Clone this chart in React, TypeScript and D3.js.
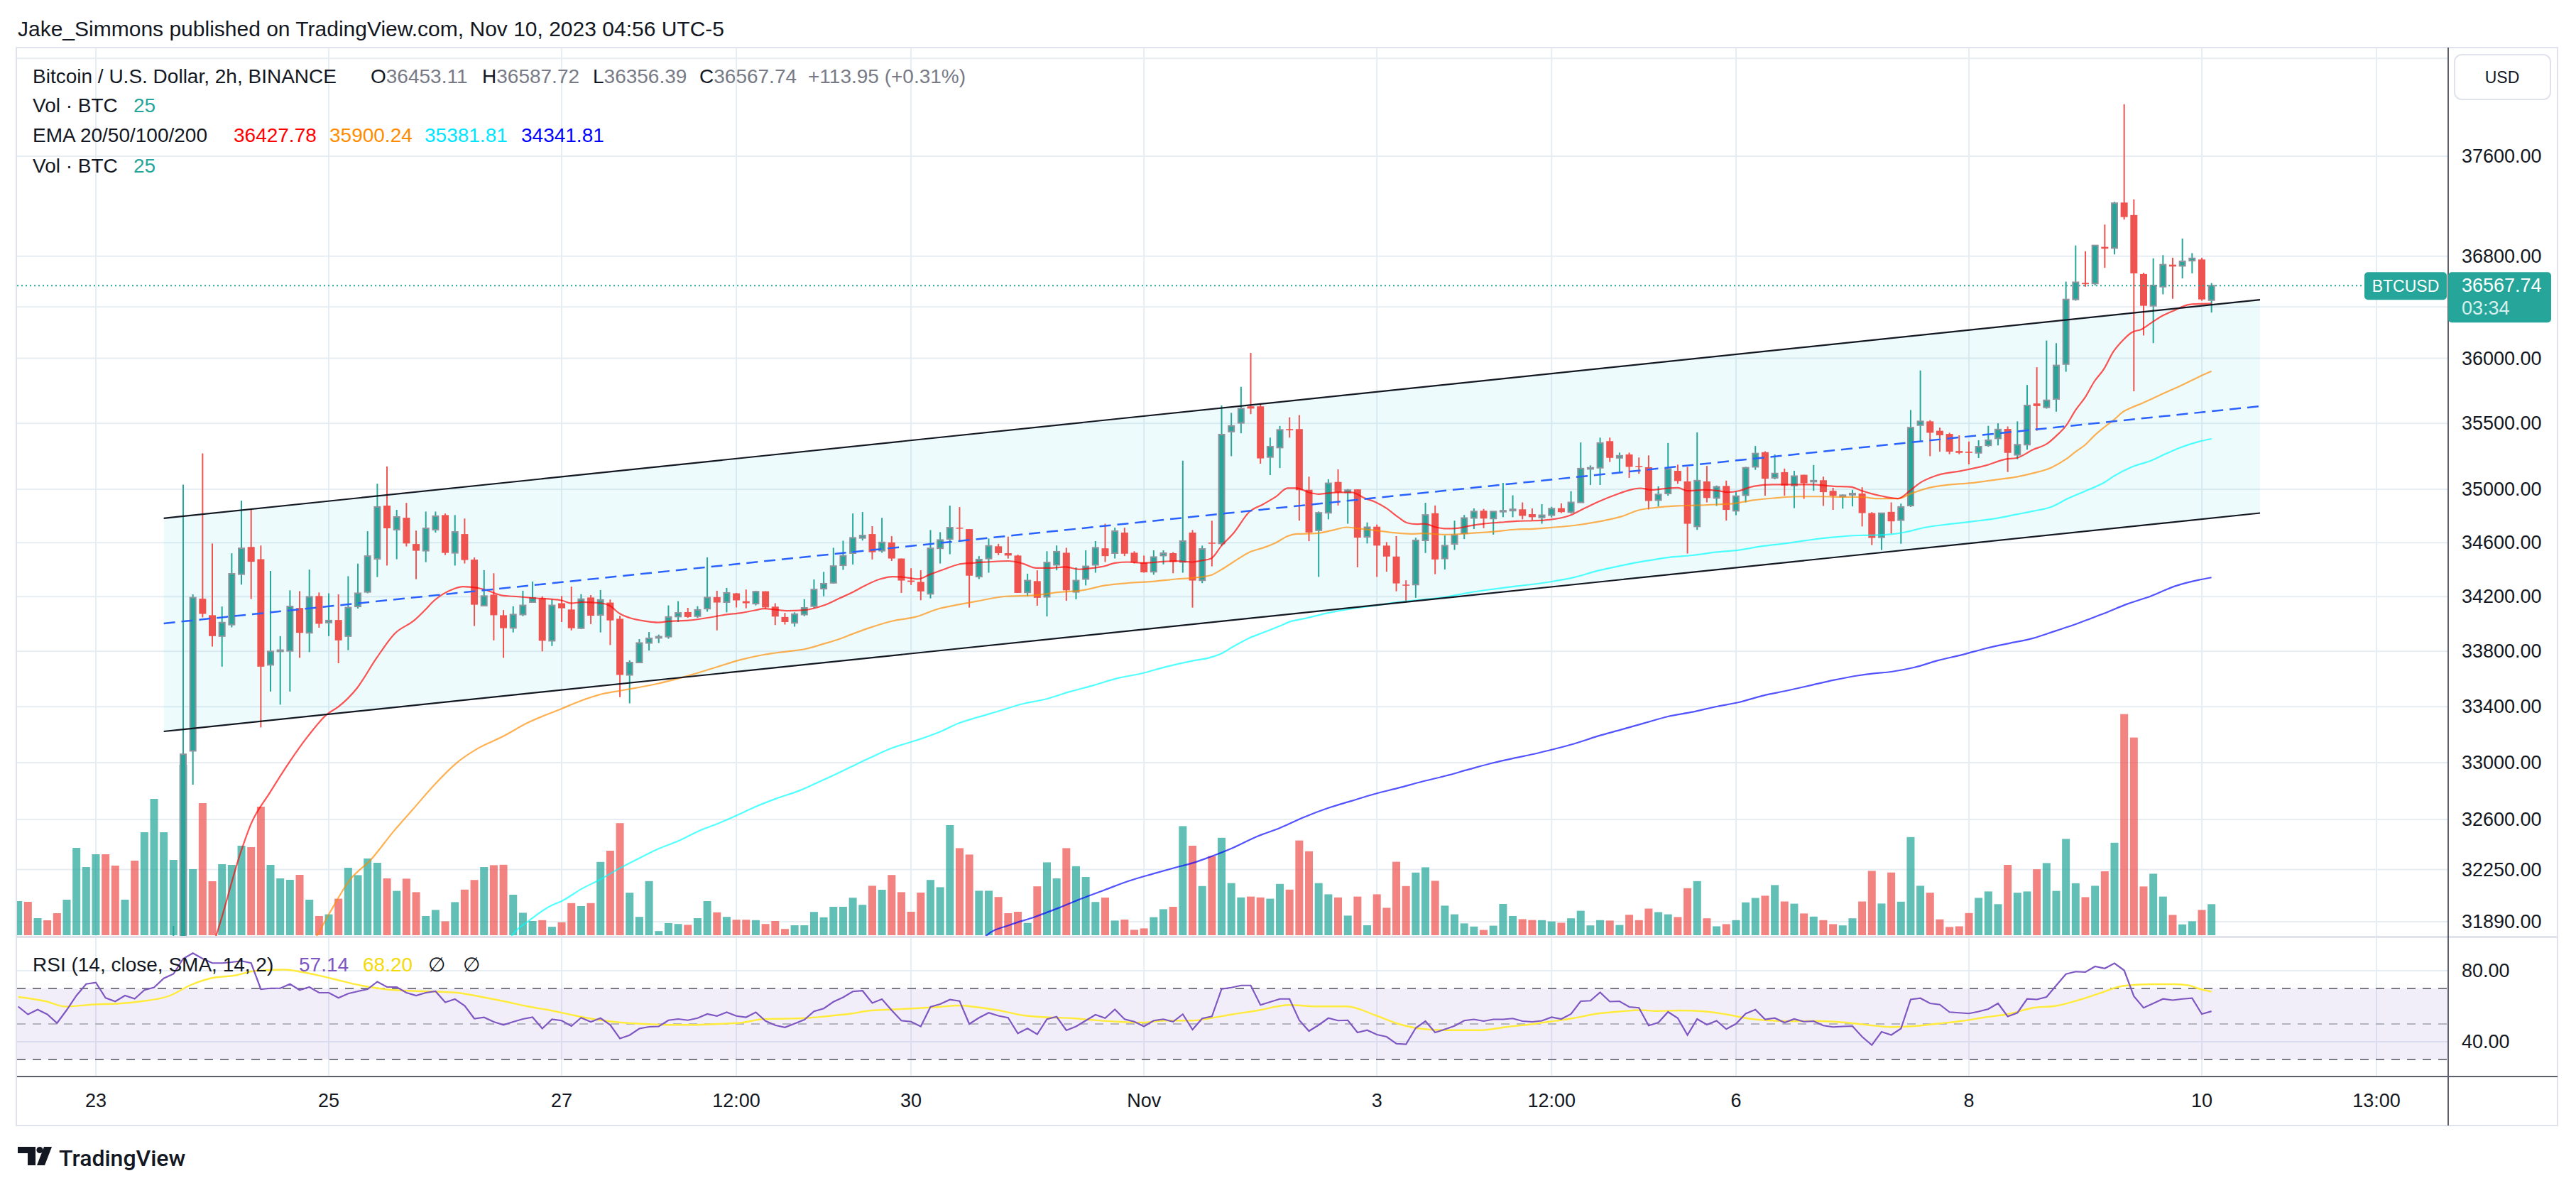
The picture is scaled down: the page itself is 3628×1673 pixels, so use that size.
import * as d3 from 'd3'

const FONT = "'Liberation Sans', Arial, sans-serif"
const UP = '#26a69a'
const DOWN = '#ef5350'
const UP_BORDER = '#8f939c'
const GRID = '#e6edf3'
const TEXT = '#131722'
const MUTED = '#787b86'

// 2h bars, BINANCE BTCUSD, [open, high, low, close]
const candles: number[][] = [
  [29950, 30040, 29900, 30010], [30010, 30060, 29890, 29920], [29920, 30000, 29880, 29970], [29970, 30010, 29900, 29930], [29930, 29980, 29840, 29880],
  [29880, 29990, 29860, 29960], [29960, 30400, 29940, 30350], [30350, 30600, 30300, 30520], [30520, 30760, 30480, 30700], [30700, 30780, 30520, 30580],
  [30580, 30640, 30400, 30450], [30450, 30560, 30420, 30520], [30520, 30560, 30320, 30380], [30380, 30850, 30360, 30800], [30800, 31350, 30780, 31300],
  [31300, 31600, 31250, 31550], [31550, 31860, 31500, 31720], [31720, 35035, 31650, 33060], [33084, 34217, 32845, 34193], [34185, 35271, 34048, 34074],
  [34064, 34594, 33835, 33911], [33911, 34128, 33689, 34010], [33995, 34521, 33975, 34369], [34366, 34914, 34289, 34558], [34568, 34845, 34183, 34458],
  [34477, 34579, 33251, 33689], [33702, 34390, 33509, 33800], [33800, 33911, 33415, 33809], [33803, 34247, 33509, 34128], [34117, 34241, 33753, 33935],
  [33935, 34400, 33795, 34199], [34205, 34231, 33973, 34001], [34010, 34225, 33911, 34025], [34029, 34217, 33714, 33880], [33911, 34351, 33809, 34120],
  [34128, 34444, 34113, 34225], [34235, 34685, 34225, 34500], [34480, 35041, 34345, 34867], [34877, 35172, 34430, 34707], [34697, 34845, 34477, 34792],
  [34786, 34898, 34572, 34594], [34590, 34690, 34329, 34540], [34540, 34832, 34455, 34707], [34697, 34832, 34675, 34798], [34806, 34818, 34508, 34524],
  [34524, 34806, 34430, 34680], [34664, 34780, 34445, 34471], [34474, 34490, 33985, 34141], [34134, 34396, 34134, 34205], [34215, 34373, 33880, 34064],
  [34064, 34102, 33753, 33969], [33971, 34130, 33938, 34069], [34069, 34244, 34057, 34136], [34160, 34312, 34160, 34191], [34188, 34203, 33800, 33877],
  [33877, 34179, 33839, 34136], [34152, 34206, 34014, 34115], [34106, 34274, 33953, 33969], [33969, 34219, 33962, 34182], [34194, 34212, 33999, 34060],
  [34066, 34249, 33938, 34176], [34157, 34179, 33846, 34026], [34038, 34060, 33469, 33629], [33629, 33735, 33424, 33719], [33719, 33889, 33717, 33861],
  [33861, 33941, 33806, 33895], [33898, 33922, 33861, 33907], [33907, 34136, 33892, 34051], [34054, 34167, 34014, 34081], [34087, 34118, 34045, 34051],
  [34057, 34130, 34045, 34103], [34112, 34491, 34090, 34194], [34197, 34244, 33953, 34157], [34160, 34265, 34085, 34228], [34225, 34228, 34121, 34173],
  [34167, 34253, 34115, 34152], [34149, 34244, 34136, 34237], [34240, 34240, 34112, 34121], [34127, 34152, 33992, 34054], [34051, 34081, 33996, 34014],
  [34008, 34085, 33980, 34072], [34069, 34182, 34057, 34118], [34130, 34327, 34118, 34253], [34259, 34383, 34203, 34296], [34302, 34562, 34296, 34426],
  [34432, 34614, 34398, 34503], [34522, 34818, 34438, 34636], [34635, 34829, 34616, 34653], [34664, 34723, 34475, 34529], [34540, 34785, 34525, 34602],
  [34602, 34649, 34464, 34482], [34482, 34482, 34228, 34319], [34319, 34410, 34286, 34309], [34309, 34395, 34174, 34239], [34221, 34694, 34188, 34558],
  [34558, 34678, 34445, 34620], [34627, 34877, 34514, 34712], [34712, 34866, 34609, 34705], [34701, 34701, 34120, 34355], [34348, 34500, 34330, 34475],
  [34482, 34631, 34377, 34576], [34573, 34591, 34507, 34522], [34522, 34645, 34482, 34504], [34504, 34511, 34228, 34228], [34232, 34370, 34203, 34319],
  [34315, 34395, 34134, 34192], [34199, 34536, 34055, 34453], [34435, 34579, 34395, 34533], [34525, 34562, 34170, 34247], [34235, 34416, 34181, 34319],
  [34330, 34543, 34283, 34424], [34435, 34612, 34377, 34562], [34558, 34741, 34456, 34500], [34522, 34712, 34482, 34686], [34675, 34712, 34500, 34518],
  [34525, 34536, 34445, 34453], [34453, 34504, 34377, 34380], [34384, 34543, 34362, 34493], [34504, 34543, 34439, 34522], [34522, 34529, 34373, 34456],
  [34456, 35216, 34377, 34612], [34675, 34694, 34120, 34319], [34321, 34578, 34300, 34553], [34600, 34764, 34424, 34594], [34594, 35637, 34578, 35414],
  [35437, 35580, 35250, 35480], [35503, 35780, 35424, 35613], [35630, 36042, 35570, 35613], [35630, 35647, 35193, 35233], [35243, 35391, 35107, 35322],
  [35315, 35480, 35160, 35450], [35456, 35546, 35391, 35447], [35456, 35563, 34764, 34993], [34996, 35095, 34611, 34676], [34692, 34833, 34346, 34823],
  [34823, 35075, 34774, 35045], [35055, 35150, 34878, 34976], [34976, 35002, 34741, 34993], [34999, 34999, 34417, 34637], [34643, 34751, 34594, 34715],
  [34719, 34735, 34346, 34578], [34578, 34604, 34385, 34497], [34497, 34649, 34240, 34298], [34289, 34321, 34166, 34282], [34289, 34637, 34192, 34617],
  [34617, 34898, 34523, 34807], [34820, 34878, 34366, 34475], [34482, 34653, 34401, 34578], [34591, 34764, 34546, 34656], [34669, 34807, 34627, 34784],
  [34784, 34856, 34702, 34833], [34839, 34852, 34708, 34780], [34780, 34833, 34660, 34833], [34833, 35048, 34790, 34839], [34839, 34954, 34790, 34849],
  [34849, 34901, 34774, 34800], [34813, 34856, 34767, 34790], [34788, 34888, 34741, 34805], [34805, 34868, 34788, 34854], [34858, 34894, 34821, 34828],
  [34828, 34985, 34818, 34901], [34901, 35354, 34901, 35156], [35153, 35180, 35032, 35162], [35162, 35391, 35032, 35350], [35364, 35391, 35206, 35237],
  [35237, 35277, 35122, 35253], [35263, 35277, 35086, 35169], [35176, 35240, 35116, 35169], [35166, 35256, 34848, 34912], [34918, 35022, 34871, 34961],
  [34968, 35350, 34951, 35153], [35139, 35186, 35041, 35062], [35059, 35169, 34519, 34741], [34721, 35431, 34695, 35065], [35059, 35176, 34901, 34934],
  [34934, 35028, 34875, 35018], [35025, 35065, 34765, 34845], [34838, 34981, 34805, 34948], [34955, 35169, 34901, 35162], [35169, 35327, 35146, 35270],
  [35280, 35287, 34951, 35079], [35086, 35263, 35075, 35119], [35129, 35156, 34951, 35028], [35028, 35139, 34858, 35099], [35109, 35109, 34928, 35045],
  [35059, 35183, 34988, 35065], [35068, 35095, 34875, 34978], [34988, 35011, 34845, 34951], [34945, 34961, 34854, 34955], [34958, 34995, 34871, 34968],
  [34968, 35015, 34721, 34821], [34821, 34828, 34582, 34635], [34640, 34820, 34545, 34820], [34830, 34901, 34668, 34759], [34768, 34892, 34592, 34867],
  [34877, 35602, 34867, 35467], [35486, 35906, 35361, 35515], [35515, 35524, 35250, 35428], [35443, 35467, 35284, 35409], [35419, 35428, 35265, 35284],
  [35289, 35409, 35265, 35275], [35284, 35361, 35188, 35275], [35275, 35371, 35236, 35322], [35332, 35481, 35322, 35371], [35385, 35500, 35332, 35453],
  [35457, 35476, 35130, 35275], [35260, 35515, 35227, 35337], [35337, 35794, 35299, 35637], [35652, 35931, 35443, 35632], [35622, 36138, 35612, 35676],
  [35686, 36118, 35589, 35945], [35955, 36599, 35896, 36459], [36459, 36885, 36449, 36594], [36589, 36839, 36559, 36579], [36584, 36885, 36569, 36885],
  [36874, 37051, 36708, 36859], [36864, 37233, 36814, 37222], [37227, 38023, 37091, 37111], [37127, 37253, 35745, 36664], [36659, 36669, 36177, 36409],
  [36409, 36783, 36118, 36569], [36559, 36808, 36499, 36733], [36733, 36788, 36464, 36718], [36723, 36940, 36624, 36759], [36764, 36824, 36664, 36783],
  [36774, 36788, 36449, 36459], [36453.11, 36587.72, 36356.39, 36567.74],
]

const volumes: number[] = [
  2400, 2350, 1200, 1050, 1550, 2500, 6150, 4800, 5700, 5700,
  4900, 2500, 5250, 7250, 9600, 7250, 5300, 12000, 4650, 9300,
  3800, 5000, 4950, 6300, 6200, 9050, 4950, 4000, 3900, 4250,
  2500, 1350, 1470, 2570, 4750, 4230, 5400, 5100, 4000, 3120,
  3980, 3030, 1350, 1780, 980, 2330, 3210, 3890, 4800, 4930,
  4960, 2850, 1580, 1000, 1060, 590, 910, 2260, 2050, 2260,
  5160, 5950, 7890, 2990, 1290, 3810, 290, 850, 790, 730,
  1200, 2400, 1610, 1290, 1090, 1090, 1060, 790, 1000, 440,
  700, 700, 1640, 1260, 2000, 2000, 2640, 2140, 3480, 3200,
  4240, 3030, 1650, 3000, 3890, 3380, 7750, 6130, 5680, 3130,
  3130, 2690, 1550, 1650, 860, 3440, 5130, 4000, 6130, 4860,
  4100, 2340, 2650, 1030, 1100, 380, 480, 1270, 1830, 2000,
  7680, 6300, 3460, 5570, 6860, 3670, 2660, 2720, 2660, 2570,
  3610, 3210, 6670, 5910, 3670, 2880, 2660, 1380, 2720, 700,
  2880, 1930, 5170, 3460, 4410, 4780, 3830, 2080, 1470, 830,
  610, 370, 670, 2200, 1350, 1130, 1070, 1060, 970, 875,
  1190, 1720, 690, 1060, 1030, 720, 1440, 1060, 1875, 1625,
  1470, 1280, 3310, 3810, 1190, 625, 780, 1060, 2310, 2625,
  2780, 3530, 2375, 2220, 1530, 1310, 1060, 780, 690, 1190,
  2375, 4530, 2230, 4415, 2360, 6910, 3480, 2990, 1115, 580,
  625, 1560, 2630, 3080, 2185, 4950, 2990, 3080, 4640, 5080,
  3120, 6780, 3660, 2680, 3480, 4500, 6510, 15570, 13920, 3430,
  4330, 2720, 1430, 760, 980, 1780, 2185,
]

const rsiValues: number[] = [
  59.8, 55.4, 58.1, 55.4, 50.5, 57.9, 66, 72.5, 73.3, 64.7,
  62.7, 66, 64.2, 69.1, 70.6, 75.7, 78.2, 86.8, 89.9, 86.8,
  84.3, 84.3, 84.8, 85.5, 84.3, 69.6, 70.1, 70.1, 72.5, 69.1,
  70.8, 67.6, 67.6, 64.7, 67.1, 68.4, 69.6, 73.8, 70.8, 70.8,
  67.6, 66, 67.6, 68.4, 62.2, 64, 60.3, 53, 53.7, 51.2,
  49.5, 51.2, 52.8, 53.8, 47.4, 52.6, 51.9, 48.8, 53.5, 51.2,
  53.3, 49.5, 41.8, 43.7, 47.4, 48.4, 48.6, 52.1, 52.8, 52.1,
  53.3, 55.6, 54.5, 56.6, 54.5, 53.8, 56.6, 51.7, 49.3, 48.1,
  50.2, 52.4, 57.1, 58.7, 62.5, 65, 68.3, 68.7, 61.8, 64,
  57.7, 51.9, 51.3, 48.6, 59.6, 61.2, 63.7, 62.9, 50, 53.5,
  56.3, 54.6, 53.5, 44.7, 47.5, 44.2, 52.7, 54.1, 46.4, 48.6,
  51.9, 55.2, 53.3, 58.2, 52.7, 51.3, 48.6, 51.9, 52.7, 51.3,
  55.5, 46.8, 53.1, 54.3, 69.7, 70.5, 71.7, 71.7, 60.7, 62.4,
  64.1, 64.1, 52.1, 46, 49.4, 53.3, 51.9, 52.1, 45.2, 46.5,
  44, 42.8, 38.9, 38.6, 47.7, 51.6, 45.2, 47, 48.9, 51.9,
  52.6, 51.6, 52.6, 52.6, 53.1, 51.6, 51.2, 51.8, 53.8, 52.8,
  55.6, 62.8, 63.1, 67.8, 62.6, 62.8, 59.6, 59.1, 49.1, 50.8,
  56.8, 53.3, 43.8, 52.8, 49.6, 51.8, 47.1, 50.1, 55.8, 58.1,
  52.6, 53.3, 50.8, 52.8, 51.3, 51.6, 49.1, 48.3, 48.6, 48.8,
  42.8, 38.1, 45.6, 43.8, 47.4, 63.8, 64.5, 61.6, 60.9, 56.7,
  56.3, 55.9, 57, 58.4, 61.6, 54.2, 56.3, 64.1, 63.8, 65.2,
  71.7, 78.1, 79.5, 79.2, 82.4, 81.3, 84.2, 80.2, 65.6, 59.1,
  61.6, 64.1, 63.4, 64.1, 64.5, 55.6, 57.14,
]

// [bar, value]
const rsiSma: number[][] = [
  [0, 65.2], [2.9, 62.7], [4.8, 59.8], [7.8, 61], [10.4, 61.5], [12.6, 62.7], [15.6, 65.9], [17.8, 72], [19.8, 75.7],
  [22.4, 77.4], [24.4, 79.9], [27.3, 80.6], [29.6, 78.9], [32.2, 75.7], [35.4, 71.6], [38.7, 69.1], [41.9, 68.4],
  [45.2, 67.6], [47.8, 65.2], [50.3, 62.5], [52.5, 59.9], [55, 57.5], [57.4, 54.7], [59.8, 52.3], [62.3, 50.7],
  [64.7, 50], [67.1, 49.5], [69.6, 49.5], [72, 50], [74.5, 50.7], [76.9, 52.8], [79.3, 53], [81, 53.3], [83, 54.2],
  [85.9, 55.9], [87.6, 57.4], [90.1, 58.2], [92.5, 58.8], [94.9, 59.6], [96.9, 60.4], [98.6, 59.6], [101, 57.7],
  [103.5, 54.9], [105.9, 53.8], [108.4, 53.3], [110.8, 52.2], [113.2, 51.3], [115.9, 50.8], [118.1, 51.9], [121, 51.9],
  [122.7, 53.1], [125.2, 55.5], [127.6, 57.5], [131, 60.7], [133.7, 59.9], [136.9, 59.9], [139.8, 55], [142.2, 50.1],
  [144.7, 47.2], [147.1, 46.5], [150.8, 46.5], [153.2, 48.2], [155.8, 49.8], [157.8, 51.3], [160.3, 53.3], [162.7, 55.8],
  [165.2, 57.1], [167.1, 57.8], [168.8, 57.3], [171.2, 57.6], [173.7, 57.1], [176.1, 55.3], [178.6, 52.8], [181, 51.8],
  [183.4, 51.6], [185.9, 51.6], [188.3, 50.8], [190.5, 49.5], [193, 48.3], [195.4, 48.8], [197.8, 50.2], [200.3, 51.7],
  [202.7, 53.8], [205.1, 55.6], [207.6, 59.1], [210, 60.2], [212.5, 63.8], [214.9, 68.1], [216.4, 70.9], [217.3, 71.7],
  [219.8, 72.4], [222.2, 72.4], [223.7, 71.7], [224.7, 69.9], [226, 68.2],
]

const ema20: number[][] = [
  [19, 31550], [20.4, 31797], [23, 32385], [24, 32570], [25.9, 32785], [27.9, 33000], [29.9, 33193], [31.8, 33344],
  [33, 33400], [34.9, 33533], [36.9, 33749], [38.8, 33930], [40.8, 34026], [41.9, 34101], [42.9, 34174], [44.9, 34258],
  [45.8, 34274], [47.8, 34258], [50, 34207], [51, 34203], [53, 34191], [56, 34173], [57, 34152], [58.1, 34160],
  [60.1, 34152], [60.9, 34136], [62, 34075], [63, 34045], [64.7, 34020], [65.9, 34011], [67.1, 34020], [69.1, 34026],
  [71, 34045], [73, 34069], [74.5, 34081], [75.9, 34100], [76.9, 34112], [77.9, 34106], [79.3, 34097], [80.8, 34100],
  [83, 34136], [84.7, 34191], [85.9, 34230], [86.6, 34257], [88.8, 34330], [90.1, 34348], [91.3, 34344], [92.7, 34330],
  [94, 34366], [95.4, 34402], [96.9, 34439], [98.3, 34449], [99.8, 34456], [102, 34464], [103.5, 34445], [104.9, 34412],
  [106.4, 34412], [107.9, 34420], [109.3, 34402], [110.8, 34412], [112, 34427], [113, 34449], [114.4, 34456], [115.9, 34449],
  [117.4, 34456], [119.3, 34464], [121, 34456], [121.8, 34465], [122.9, 34482], [124, 34578], [125.2, 34669], [126.9, 34833],
  [128.3, 34888], [129.6, 34944], [130.8, 35009], [131.7, 35009], [133, 34976], [134, 34963], [134.9, 34970], [136.1, 34976],
  [137.4, 34976], [138.8, 34931], [139.8, 34905], [141, 34856], [142.2, 34790], [143.1, 34748], [144.1, 34738], [144.9, 34741],
  [146.1, 34715], [147.1, 34705], [148.3, 34708], [149.5, 34725], [151, 34741], [152.7, 34751], [154.4, 34761], [156.1, 34764],
  [157.8, 34771], [159.8, 34801], [161.5, 34861], [163, 34912], [164.7, 34961], [166.1, 34995], [167.1, 35008], [168.3, 34995],
  [170, 35008], [171, 35011], [172, 34988], [173.7, 34995], [175.2, 34988], [176.1, 34978], [177.3, 34988], [178.8, 35022],
  [180.8, 35035], [182.2, 35035], [184.7, 35035], [187.1, 35022], [188.8, 35018], [190, 34988], [190.8, 34970], [192, 34949],
  [193.7, 34930], [194.9, 34987], [195.9, 35045], [197.8, 35107], [200.3, 35140], [202.7, 35179], [204.8, 35227], [205.9, 35236],
  [207.6, 35299], [209.1, 35347], [210, 35404], [211, 35481], [212, 35602], [213, 35701], [213.9, 35818], [214.9, 35916],
  [215.9, 36053], [216.9, 36143], [217.8, 36202], [218.8, 36226], [219.8, 36276], [220.8, 36325], [222.2, 36374], [223.7, 36419],
  [224.7, 36424], [226, 36427.78],
]

const ema50: number[][] = [
  [29, 31600], [30.8, 31797], [32.2, 31963], [34.1, 32172], [36.4, 32323], [38.7, 32518], [40.6, 32665], [42.9, 32845],
  [45.2, 33000], [47.5, 33107], [49.8, 33182], [52.5, 33285], [56, 33386], [58.1, 33446], [59.8, 33485], [62, 33515],
  [63.7, 33536], [65.9, 33566], [68.1, 33605], [69.6, 33635], [72, 33687], [74.5, 33740], [76.9, 33777], [79.3, 33800],
  [81, 33816], [83, 33855], [84.7, 33892], [85.9, 33925], [87.6, 33969], [90.1, 34022], [92.5, 34052], [94.9, 34113],
  [96.9, 34142], [98.8, 34167], [101.8, 34203], [104.7, 34210], [107.1, 34232], [109.6, 34247], [112, 34283], [114.4, 34301],
  [116.9, 34312], [119.3, 34330], [121, 34338], [122.9, 34359], [124, 34401], [125.2, 34456], [126.9, 34530], [128.3, 34562],
  [129.6, 34600], [130.8, 34649], [131.7, 34665], [133.7, 34669], [135.4, 34692], [136.9, 34715], [137.8, 34708], [139.8, 34692],
  [141.5, 34676], [143.5, 34665], [144.7, 34669], [147.1, 34660], [149.5, 34669], [152, 34682], [154.4, 34699], [156.1, 34702],
  [157.8, 34712], [160.3, 34728], [162.7, 34755], [165.2, 34795], [167.1, 34845], [168.6, 34861], [171, 34875], [172.5, 34878],
  [174.9, 34885], [176.9, 34894], [178.8, 34918], [181, 34934], [183.4, 34945], [185.9, 34945], [188.3, 34941], [190, 34941],
  [191.5, 34930], [193.8, 34930], [194.9, 34963], [196.9, 35011], [199.1, 35035], [201.5, 35049], [203.9, 35073], [205.9, 35093],
  [207.6, 35121], [209.5, 35164], [211, 35227], [212, 35284], [213, 35337], [213.9, 35404], [214.9, 35467], [215.9, 35524],
  [216.9, 35589], [217.8, 35622], [218.8, 35652], [219.8, 35686], [221.2, 35735], [222.7, 35784], [224.7, 35857], [226, 35900.24],
]

const ema100: number[][] = [
  [49.5, 31600], [50.9, 31797], [52.5, 31890], [55, 32004], [56, 32032], [58.1, 32118], [59.8, 32175], [62, 32260],
  [63.7, 32319], [65.9, 32392], [68.1, 32451], [70.3, 32524], [72, 32568], [74, 32627], [75.9, 32687], [78.1, 32746],
  [80.6, 32805], [83, 32879], [85.5, 32960], [87.6, 33029], [90.1, 33106], [92.5, 33158], [94.9, 33218], [96.9, 33281],
  [98.8, 33323], [101, 33368], [103.5, 33420], [105.9, 33455], [108.4, 33509], [110.8, 33554], [113.2, 33604], [115.7, 33639],
  [118.1, 33685], [121, 33731], [122.7, 33753], [124, 33785], [125.2, 33835], [126.9, 33899], [128.3, 33937], [130, 33985],
  [131, 34016], [132.5, 34039], [134.9, 34080], [137.4, 34112], [139.8, 34134], [142.2, 34160], [144.7, 34179], [147.1, 34198],
  [149.5, 34230], [152, 34256], [154.4, 34278], [156.1, 34292], [157.8, 34309], [160.3, 34342], [162.7, 34391], [165.2, 34430],
  [167.6, 34463], [170, 34490], [172.5, 34506], [174.9, 34529], [177.3, 34545], [179.8, 34575], [182.2, 34595], [184.7, 34621],
  [187.1, 34641], [189.5, 34654], [191.2, 34656], [193, 34663], [194.4, 34678], [196.6, 34715], [199.1, 34739], [201.5, 34759],
  [203.9, 34782], [205.9, 34811], [207.6, 34835], [209.5, 34868], [211.2, 34930], [213, 34987], [214.9, 35049], [215.9, 35097],
  [217.8, 35169], [219.8, 35217], [221.2, 35265], [222.7, 35313], [224.7, 35361], [226, 35381.81],
]

const ema200: number[][] = [
  [98.5, 31650], [99.8, 31797], [102.2, 31868], [104.7, 31922], [107.1, 31982], [109.6, 32050], [112, 32110], [114.4, 32170],
  [116.9, 32220], [119.3, 32265], [121, 32295], [122.7, 32335], [125.2, 32402], [127.6, 32479], [130, 32540], [132.5, 32616],
  [134.9, 32678], [137.4, 32730], [139.8, 32779], [142.2, 32821], [144.7, 32867], [147.1, 32907], [149.5, 32953], [152, 32999],
  [154.4, 33036], [156.1, 33061], [157.8, 33089], [160.3, 33134], [162.7, 33188], [165.2, 33236], [167.6, 33283], [170, 33330],
  [172.5, 33362], [174.9, 33400], [177.3, 33432], [179.8, 33480], [182.2, 33515], [184.7, 33554], [187.1, 33592], [189.5, 33624],
  [191.2, 33640], [193, 33652], [195.4, 33684], [197.8, 33734], [200.3, 33775], [202.7, 33821], [205.1, 33858], [207.6, 33895],
  [210, 33951], [212, 33998], [213.7, 34044], [214.9, 34076], [217.3, 34146], [219.8, 34206], [222.2, 34277], [224.7, 34324],
  [226, 34341.81],
]

// parallel channel drawing, [bar, price]
const channelUpper: number[][] = [[15, 34782], [231, 36457]]
const channelMiddle: number[][] = [[15, 34004], [231, 35631]]
const channelLower: number[][] = [[15, 33223], [231, 34821]]

const priceGrid = [38400, 37600, 36800, 36400, 36000, 35500, 35000, 34600, 34200, 33800, 33400, 33000, 32600, 32250, 31890]
const priceLabels = [37600, 36800, 36000, 35500, 35000, 34600, 34200, 33800, 33400, 33000, 32600, 32250, 31890]
const rsiGrid = [80, 40]
const rsiLabels = [80, 40]
const timeTicks: [number, string][] = [
  [8, '23'], [32, '25'], [56, '27'], [74, '12:00'], [92, '30'], [116, 'Nov'],
  [140, '3'], [158, '12:00'], [177, '6'], [201, '8'], [225, '10'], [243, '13:00'],
]
const lastPrice = 36567.74

export default function App() {
  const x = d3.scaleLinear().domain([8, 225]).range([135, 3101])
  const y = d3.scaleLog().domain([31890, 37600]).range([1298, 220])
  const yRsi = d3.scaleLinear().domain([30, 70]).range([1492, 1392])
  const yVol = d3.scaleLinear().domain([0, 20000]).range([1317, 917])

  const left = 24
  const axisX = 3448
  const frameRight = 3602
  const top = 68
  const paneBottom = 1318
  const rsiTop = 1321
  const rsiBottom = 1515
  const xAxisBottom = 1585

  const pxLine = d3.line<number[]>().x(d => x(d[0])).y(d => y(d[1]))
  const emaLine = d3.line<number[]>().x(d => x(d[0])).y(d => y(d[1])).curve(d3.curveMonotoneX)
  const rsiLine = d3.line<number>().x((_, i) => x(i)).y(d => yRsi(d))
  const smaLine = d3.line<number[]>().x(d => x(d[0])).y(d => yRsi(d[1])).curve(d3.curveMonotoneX)

  const channelArea =
    `M${x(channelUpper[0][0])},${y(channelUpper[0][1])}` +
    `L${x(channelUpper[1][0])},${y(channelUpper[1][1])}` +
    `L${x(channelLower[1][0])},${y(channelLower[1][1])}` +
    `L${x(channelLower[0][0])},${y(channelLower[0][1])}Z`

  const emas: [number[][], string][] = [
    [ema200, '#0000ff'], [ema100, '#00ffff'], [ema50, '#ff8c00'], [ema20, '#ff0000'],
  ]

  const yLast = y(lastPrice)

  return (
    <svg width={3628} height={1673} style={{ position: 'absolute', left: 0, top: 0, background: '#fff' }} fontFamily={FONT}>
      <defs>
        <clipPath id="main"><rect x={left} y={top} width={axisX - left} height={paneBottom - top} /></clipPath>
        <clipPath id="rsi"><rect x={left} y={rsiTop} width={axisX - left} height={rsiBottom - rsiTop} /></clipPath>
      </defs>
      <rect width={3628} height={1673} fill="#fff" />

      <text x={25} y={40} fontSize={30} fill={TEXT} dominantBaseline="central">
        Jake_Simmons published on TradingView.com, Nov 10, 2023 04:56 UTC-5
      </text>

      {/* grid */}
      {priceGrid.map(p => (
        <line key={p} x1={left} x2={axisX} y1={y(p)} y2={y(p)} stroke={GRID} strokeWidth={2} />
      ))}
      {rsiGrid.map(v => (
        <line key={v} x1={left} x2={axisX} y1={yRsi(v)} y2={yRsi(v)} stroke={GRID} strokeWidth={2} />
      ))}
      {timeTicks.map(([i]) => (
        <line key={i} x1={x(i)} x2={x(i)} y1={top} y2={rsiBottom} stroke={GRID} strokeWidth={2} />
      ))}

      {/* main pane */}
      <g clipPath="url(#main)">
        <path d={channelArea} fill="rgba(0,188,212,0.065)" />
        {volumes.map((v, i) => {
          const c = candles[i]
          const up = c[3] >= c[0]
          return (
            <rect key={i} x={x(i) - 5.5} y={yVol(v)} width={11} height={yVol(0) - yVol(v)}
              fill={up ? UP : DOWN} fillOpacity={0.72} />
          )
        })}
        {candles.map((c, i) => {
          const [o, h, l, cl] = c
          const up = cl >= o
          const cx = x(i)
          const yt = y(Math.max(o, cl))
          const bh = Math.max(y(Math.min(o, cl)) - yt, 1.5)
          return (
            <g key={i}>
              <line x1={cx} x2={cx} y1={y(h)} y2={y(l)} stroke={up ? UP : DOWN} strokeWidth={2} />
              {up ? (
                <rect x={cx - 4} y={yt} width={8} height={bh} fill={UP} stroke={UP_BORDER} strokeWidth={2} />
              ) : (
                <rect x={cx - 5} y={yt} width={10} height={bh} fill={DOWN} />
              )}
            </g>
          )
        })}
        {emas.map(([d, col]) => (
          <path key={col} d={emaLine(d) || ''} fill="none" stroke={col} strokeOpacity={0.68} strokeWidth={2.2} />
        ))}
        <path d={pxLine(channelUpper) || ''} stroke="#131722" strokeWidth={2.2} fill="none" />
        <path d={pxLine(channelLower) || ''} stroke="#131722" strokeWidth={2.2} fill="none" />
        <path d={pxLine(channelMiddle) || ''} stroke="#2962ff" strokeWidth={2.5} strokeDasharray="16 9" fill="none" />
        <line x1={left} x2={3330} y1={yLast} y2={yLast} stroke={UP} strokeWidth={2} strokeDasharray="2 4" />
      </g>

      {/* legend */}
      <g fontSize={28} dominantBaseline="central">
        <text x={46} y={107} fill={TEXT}>Bitcoin / U.S. Dollar, 2h, BINANCE</text>
        <text x={522} y={107} fill={TEXT}>O<tspan fill={MUTED}>36453.11</tspan></text>
        <text x={679} y={107} fill={TEXT}>H<tspan fill={MUTED}>36587.72</tspan></text>
        <text x={835} y={107} fill={TEXT}>L<tspan fill={MUTED}>36356.39</tspan></text>
        <text x={985} y={107} fill={TEXT}>C<tspan fill={MUTED}>36567.74</tspan></text>
        <text x={1138} y={107} fill={MUTED}>+113.95 (+0.31%)</text>

        <text x={46} y={148} fill={TEXT}>Vol · BTC</text>
        <text x={188} y={148} fill={UP}>25</text>

        <text x={46} y={190} fill={TEXT}>EMA 20/50/100/200</text>
        <text x={329} y={190} fill="#ff0000">36427.78</text>
        <text x={464} y={190} fill="#ff8c00">35900.24</text>
        <text x={598} y={190} fill="#00e5ff">35381.81</text>
        <text x={734} y={190} fill="#0000ff">34341.81</text>

        <text x={46} y={233} fill={TEXT}>Vol · BTC</text>
        <text x={188} y={233} fill={UP}>25</text>
      </g>

      {/* RSI pane */}
      <g clipPath="url(#rsi)">
        <rect x={left} y={yRsi(70)} width={axisX - left} height={yRsi(30) - yRsi(70)} fill="rgba(126,87,194,0.1)" />
        <line x1={left} x2={axisX} y1={yRsi(70)} y2={yRsi(70)} stroke={MUTED} strokeWidth={2} strokeDasharray="12 10" />
        <line x1={left} x2={axisX} y1={yRsi(50)} y2={yRsi(50)} stroke="#b2b5be" strokeWidth={2} strokeDasharray="12 10" />
        <line x1={left} x2={axisX} y1={yRsi(30)} y2={yRsi(30)} stroke={MUTED} strokeWidth={2} strokeDasharray="12 10" />
        <path d={smaLine(rsiSma) || ''} fill="none" stroke="#ffeb3b" strokeWidth={2.4} />
        <path d={rsiLine(rsiValues) || ''} fill="none" stroke="#7e57c2" strokeWidth={2.2} />
      </g>
      <g fontSize={28} dominantBaseline="central">
        <text x={46} y={1358} fill={TEXT}>RSI (14, close, SMA, 14, 2)</text>
        <text x={421} y={1358} fill="#7e57c2">57.14</text>
        <text x={511} y={1358} fill="#f5d90a">68.20</text>
        <text x={603} y={1358} fill={TEXT}>∅</text>
        <text x={652} y={1358} fill={TEXT}>∅</text>
      </g>

      {/* frame & axes */}
      <rect x={23} y={67} width={frameRight - 23} height={xAxisBottom - 67} fill="none" stroke="#e0e3eb" strokeWidth={2} />
      <line x1={left} x2={frameRight} y1={1319.5} y2={1319.5} stroke="#e0e3eb" strokeWidth={3} />
      <line x1={left} x2={frameRight} y1={1516} y2={1516} stroke="#5d606b" strokeWidth={2} />
      <line x1={axisX} x2={axisX} y1={67} y2={xAxisBottom} stroke="#5d606b" strokeWidth={2} />

      <g fontSize={27} fill={TEXT} dominantBaseline="central">
        {priceLabels.map(p => (
          <text key={p} x={3467} y={y(p)}>{p.toFixed(2)}</text>
        ))}
        {rsiLabels.map(v => (
          <text key={v} x={3467} y={yRsi(v)}>{v.toFixed(2)}</text>
        ))}
        {timeTicks.map(([i, label]) => (
          <text key={i} x={x(i)} y={1550} textAnchor="middle">{label}</text>
        ))}
      </g>

      {/* currency button */}
      <rect x={3457} y={77} width={135} height={63} rx={10} fill="#fff" stroke="#e0e3eb" strokeWidth={2} />
      <text x={3524} y={109} fontSize={23} fill={TEXT} textAnchor="middle" dominantBaseline="central">USD</text>

      {/* last price tags */}
      <rect x={3330} y={yLast - 19} width={116} height={39} rx={5} fill={UP} />
      <text x={3388} y={yLast + 0.5} fontSize={23} fill="#fff" textAnchor="middle" dominantBaseline="central">BTCUSD</text>
      <rect x={axisX} y={yLast - 19} width={145} height={71} rx={5} fill={UP} />
      <text x={3467} y={yLast} fontSize={27} fill="#fff" dominantBaseline="central">{lastPrice.toFixed(2)}</text>
      <text x={3467} y={yLast + 32} fontSize={27} fill="#d6f0ed" dominantBaseline="central">03:34</text>

      {/* TradingView mark */}
      <g fill={TEXT}>
        <path d="M25 1615H50V1641H39V1624H25Z" />
        <circle cx={56} cy={1619.5} r={4.6} />
        <path d="M62 1615H73L63 1641H52Z" />
      </g>
      <text x={83} y={1631} fontSize={32} fontFamily="Roboto, 'Liberation Sans', sans-serif" fontWeight={500}
        fill={TEXT} dominantBaseline="central">TradingView</text>
    </svg>
  )
}
